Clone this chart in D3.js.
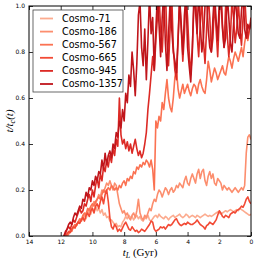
<!doctype html>
<html lang="en">

<head>
    <meta charset="utf-8">
    <title>t / tc</title>
    <style>
        body {
            margin: 0;
            background: #fff;
        }

        .tick text {
            font-family: "DejaVu Sans", sans-serif;
            font-size: 6px;
        }

        .lab {
            font-family: "Liberation Serif", serif;
        }
    </style>
</head>

<body>
    <div id="chart"></div>
    <script src="https://cdn.jsdelivr.net/npm/d3@7"></script>

    <script>
        // each series: first lookback time (Gyr), step 0.1 Gyr towards 0
        var names = ["Cosmo-71", "Cosmo-186", "Cosmo-567", "Cosmo-665", "Cosmo-945", "Cosmo-1357"];
        var colors = ["#fcab8f", "#fc8e6e", "#fb7252", "#f24a35", "#dc2a25", "#c0151b"];
        var starts = [11.6, 11.6, 11.6, 11.7, 11.8, 11.8];
        var xTicks = [14, 12, 10, 8, 6, 4, 2, 0];
        var yTicks = [0, 0.2, 0.4, 0.6, 0.8, 1.0];

        var cosmo71 = [
            0, 0.01, 0.02, 0.03, 0.035, 0.05, 0.045, 0.06, 0.07, 0.065,
            0.08, 0.09, 0.075, 0.1, 0.11, 0.095, 0.12, 0.105, 0.13, 0.11,
            0.12, 0.1, 0.115, 0.09, 0.1, 0.08, 0.085, 0.065, 0.07, 0.06,
            0.05, 0.055, 0.04, 0.045, 0.04, 0.06, 0.07, 0.085, 0.075, 0.09,
            0.08, 0.085, 0.07, 0.08, 0.09, 0.075, 0.085, 0.07, 0.065, 0.08,
            0.075, 0.09, 0.07, 0.065, 0.075, 0.085, 0.09, 0.08, 0.095, 0.085,
            0.08, 0.075, 0.085, 0.08, 0.07, 0.08, 0.085, 0.09, 0.08, 0.085,
            0.09, 0.095, 0.085, 0.08, 0.085, 0.095, 0.09, 0.08, 0.085, 0.09,
            0.085, 0.08, 0.09, 0.085, 0.08, 0.085, 0.09, 0.095, 0.09, 0.085,
            0.09, 0.085, 0.09, 0.095, 0.1, 0.105, 0.1, 0.095, 0.1, 0.105,
            0.11, 0.105, 0.11, 0.115, 0.11, 0.105, 0.11, 0.115, 0.11, 0.12,
            0.115, 0.11, 0.105, 0.1, 0.095, 0.09, 0.095
        ];
        var cosmo186 = [
            0, 0.01, 0.02, 0.03, 0.04, 0.035, 0.05, 0.06, 0.07, 0.065,
            0.08, 0.095, 0.09, 0.11, 0.12, 0.115, 0.13, 0.15, 0.14, 0.16,
            0.18, 0.17, 0.2, 0.19, 0.21, 0.23, 0.22, 0.24, 0.22, 0.2,
            0.23, 0.22, 0.18, 0.14, 0.12, 0.1, 0.11, 0.09, 0.1, 0.08,
            0.07, 0.09, 0.1, 0.08, 0.11, 0.16, 0.1, 0.08, 0.07, 0.09,
            0.08, 0.1, 0.12, 0.11, 0.14, 0.16, 0.15, 0.18, 0.2, 0.19,
            0.17, 0.19, 0.21, 0.2, 0.18, 0.2, 0.21, 0.19, 0.2, 0.22,
            0.21, 0.23, 0.22, 0.21, 0.24, 0.26, 0.23, 0.22, 0.25, 0.27,
            0.25, 0.23, 0.27, 0.29, 0.25, 0.28, 0.29, 0.24, 0.22, 0.26,
            0.28, 0.25, 0.27, 0.23, 0.22, 0.25, 0.24, 0.23, 0.2, 0.22,
            0.21, 0.2, 0.21, 0.2, 0.19, 0.2, 0.21, 0.2, 0.19, 0.2,
            0.21, 0.2, 0.22, 0.36, 0.43, 0.44, 0.42
        ];
        var cosmo567 = [
            0, 0.01, 0.025, 0.02, 0.04, 0.05, 0.045, 0.06, 0.075, 0.07,
            0.09, 0.1, 0.095, 0.12, 0.11, 0.13, 0.14, 0.13, 0.15, 0.16,
            0.17, 0.16, 0.18, 0.2, 0.19, 0.2, 0.21, 0.2, 0.22, 0.21,
            0.2, 0.21, 0.2, 0.22, 0.21, 0.23, 0.24, 0.22, 0.25, 0.24,
            0.26, 0.25, 0.28, 0.27, 0.3, 0.29, 0.31, 0.3, 0.32, 0.31,
            0.33, 0.32, 0.3, 0.33, 0.29, 0.2, 0.5, 0.47, 0.52, 0.5,
            0.58, 0.55, 0.62, 0.68, 0.6, 0.56, 0.54, 0.6, 0.69, 0.72,
            0.64, 0.6, 0.63, 0.66, 0.62, 0.64, 0.66, 0.63, 0.61, 0.64,
            0.66, 0.65, 0.62, 0.66, 0.68, 0.65, 0.63, 0.62, 0.68, 0.76,
            0.72, 0.67, 0.7, 0.73, 0.71, 0.68, 0.7, 0.72, 0.74, 0.71,
            0.7, 0.74, 0.78, 0.76, 0.73, 0.77, 0.8, 0.78, 0.76, 0.79,
            0.82, 0.78, 0.84, 0.88, 0.85, 0.9, 0.93
        ];
        var cosmo665 = [
            0, 0.01, 0.02, 0.015, 0.03, 0.04, 0.035, 0.05, 0.06, 0.055,
            0.07, 0.08, 0.065, 0.09, 0.1, 0.085, 0.11, 0.12, 0.1, 0.13,
            0.14, 0.12, 0.15, 0.17, 0.14, 0.18, 0.2, 0.15, 0.08, 0.04,
            0.03, 0.05, 0.04, 0.02, 0.03, 0.02, 0.035, 0.05, 0.06, 0.045,
            0.03, 0.025, 0.04, 0.03, 0.02, 0.025, 0.015, 0.02, 0.03, 0.025,
            0.02, 0.03, 0.04, 0.05, 0.065, 0.06, 0.03, 0.02, 0.025, 0.03,
            0.04, 0.035, 0.04, 0.03, 0.04, 0.05, 0.045, 0.05, 0.06, 0.07,
            0.075, 0.06, 0.05, 0.045, 0.05, 0.055, 0.05, 0.06, 0.055, 0.05,
            0.05, 0.055, 0.06, 0.07, 0.06, 0.05, 0.045, 0.04, 0.03, 0.045,
            0.05, 0.06, 0.055, 0.05, 0.06, 0.07, 0.09, 0.11, 0.1, 0.085,
            0.08, 0.09, 0.085, 0.08, 0.095, 0.1, 0.105, 0.1, 0.11, 0.115,
            0.12, 0.13, 0.125, 0.14, 0.16, 0.17, 0.15, 0.14
        ];
        var cosmo945 = [
            0, 0.01, 0.03, 0.04, 0.03, 0.05, 0.07, 0.06, 0.08, 0.1,
            0.12, 0.1, 0.11, 0.14, 0.13, 0.16, 0.18, 0.15, 0.2, 0.17,
            0.22, 0.25, 0.21, 0.27, 0.24, 0.3, 0.28, 0.33, 0.3, 0.35,
            0.32, 0.38, 0.35, 0.42, 0.39, 0.6, 0.44, 0.4, 0.42, 0.38,
            0.41, 0.37, 0.4, 0.36, 0.39, 0.42, 0.38, 0.35, 0.37, 0.34,
            0.36, 0.4, 0.45, 0.55, 0.62, 0.7, 0.78, 0.72, 0.85, 0.95,
            1.05, 0.9, 0.8, 0.95, 1.08, 0.85, 0.74, 0.9, 1.05, 0.82,
            0.72, 0.68, 0.85, 1.02, 0.9, 0.76, 0.88, 1.05, 0.95, 0.8,
            0.7, 0.82, 1.0, 1.06, 0.88, 0.78, 0.92, 1.04, 0.85, 0.75,
            0.9, 1.05, 0.95, 0.8, 0.86, 1.02, 0.9, 0.78, 0.95, 1.06,
            0.92, 0.82, 1.0, 0.88, 0.78, 0.86, 1.03, 0.95, 0.84, 0.9,
            1.02, 0.9, 0.83, 0.95, 1.05, 0.92, 0.86, 0.9, 0.95
        ];
        var cosmo1357 = [
            0, 0.02, 0.03, 0.05, 0.06, 0.05, 0.08, 0.1, 0.09, 0.11,
            0.13, 0.12, 0.16, 0.15, 0.19, 0.17, 0.21, 0.2, 0.24, 0.22,
            0.26, 0.24, 0.28, 0.27, 0.33, 0.29, 0.36, 0.31, 0.35, 0.37,
            0.34, 0.4, 0.38, 0.45, 0.43, 0.5, 0.47, 0.55, 0.5, 0.62,
            0.58, 0.7, 0.65, 0.8, 0.72, 0.61, 0.75, 0.96, 1.02, 0.82,
            0.74, 0.9, 0.68, 0.85, 1.05, 0.88, 0.95, 0.72, 0.9, 1.05,
            0.92, 0.78, 0.95, 1.06, 0.84, 0.72, 0.88, 1.02, 0.9, 0.8,
            0.76, 0.71, 0.86, 1.04, 0.92, 0.79, 0.96, 1.05, 0.82, 0.74,
            0.67, 0.8, 1.05, 0.98, 0.88, 1.06, 0.92, 0.8, 0.86, 1.0,
            1.05, 0.9, 0.82, 0.8, 0.95, 1.06, 0.94, 0.85, 1.02, 1.05,
            0.9, 0.82, 0.86, 1.05, 0.95, 0.84, 0.8, 0.92, 1.04, 0.96,
            0.88, 0.86, 0.98, 1.05, 0.9, 0.86, 0.92, 0.9, 0.93
        ];
        var values = [cosmo71, cosmo186, cosmo567, cosmo665, cosmo945, cosmo1357];

        (function () {
            var width = 257, height = 262;
            var margin = { top: 6, right: 6, bottom: 26, left: 29 };
            var w = width - margin.left - margin.right;
            var h = height - margin.top - margin.bottom;

            var svg = d3.select("#chart").append("svg")
                .attr("width", width)
                .attr("height", height);

            var x = d3.scaleLinear().domain([14, 0]).range([0, w]);
            var y = d3.scaleLinear().domain([0, 1]).range([h, 0]);

            var g = svg.append("g")
                .attr("transform", "translate(" + margin.left + "," + margin.top + ")");

            g.append("clipPath").attr("id", "clip")
                .append("rect").attr("width", w).attr("height", h);

            var series = names.map(function (n, i) {
                return values[i].map(function (v, j) {
                    return [starts[i] - j * 0.1, v];
                });
            });

            var line = d3.line()
                .x(function (d) { return x(d[0]); })
                .y(function (d) { return y(d[1]); });

            g.append("g").attr("clip-path", "url(#clip)")
                .selectAll("path").data(series).enter()
                .append("path")
                .attr("d", line)
                .attr("fill", "none")
                .attr("stroke", function (d, i) { return colors[i]; })
                .attr("stroke-width", 1.6)
                .attr("stroke-linejoin", "round");

            // axes, ticks pointing inwards on all four sides
            var fmtY = d3.format(".1f");
            g.append("g").attr("transform", "translate(0," + h + ")")
                .call(d3.axisBottom(x).tickValues(xTicks).tickSize(-4).tickPadding(4));
            g.append("g")
                .call(d3.axisTop(x).tickValues(xTicks).tickSize(-4).tickFormat(""));
            g.append("g")
                .call(d3.axisLeft(y).tickValues(yTicks).tickSize(-4).tickPadding(4).tickFormat(fmtY));
            g.append("g").attr("transform", "translate(" + w + ",0)")
                .call(d3.axisRight(y).tickValues(yTicks).tickSize(-4).tickFormat(""));
            g.selectAll(".domain").remove();
            g.selectAll(".tick line").attr("stroke", "#000").attr("stroke-width", 0.8);

            g.append("rect")
                .attr("width", w).attr("height", h)
                .attr("fill", "none").attr("stroke", "#000").attr("stroke-width", 1);

            // labels
            var xl = svg.append("text").attr("class", "lab")
                .attr("x", margin.left + w / 2).attr("y", 256)
                .attr("text-anchor", "middle").attr("font-size", 11);
            xl.append("tspan").attr("font-style", "italic").text("t");
            xl.append("tspan").attr("font-style", "italic").attr("font-size", 8).attr("dy", 2).text("L");
            xl.append("tspan").attr("dy", -2).text(" (Gyr)");

            var yl = svg.append("text").attr("class", "lab")
                .attr("transform", "translate(13," + (margin.top + h / 2) + ") rotate(-90)")
                .attr("text-anchor", "middle").attr("font-size", 11).attr("font-style", "italic");
            yl.append("tspan").text("t/t");
            yl.append("tspan").attr("font-size", 8).attr("dy", 2).text("c");
            yl.append("tspan").attr("dy", -2).text("(t)");

            // legend
            var leg = g.append("g").attr("transform", "translate(4,4)");
            leg.append("rect")
                .attr("width", 90).attr("height", 82)
                .attr("fill", "#fff").attr("stroke", "#444").attr("stroke-width", 0.8);
            var item = leg.selectAll(".item").data(names).enter()
                .append("g")
                .attr("transform", function (d, i) { return "translate(0," + (8.5 + i * 13.1) + ")"; });
            item.append("line")
                .attr("x1", 7).attr("x2", 20)
                .attr("stroke", function (d, i) { return colors[i]; })
                .attr("stroke-width", 1.8);
            item.append("text")
                .attr("x", 29).attr("dy", "0.35em")
                .attr("font-family", "DejaVu Sans, sans-serif")
                .attr("font-size", 9.6)
                .text(function (d) { return d; });
        })();
    </script>
</body>

</html>
